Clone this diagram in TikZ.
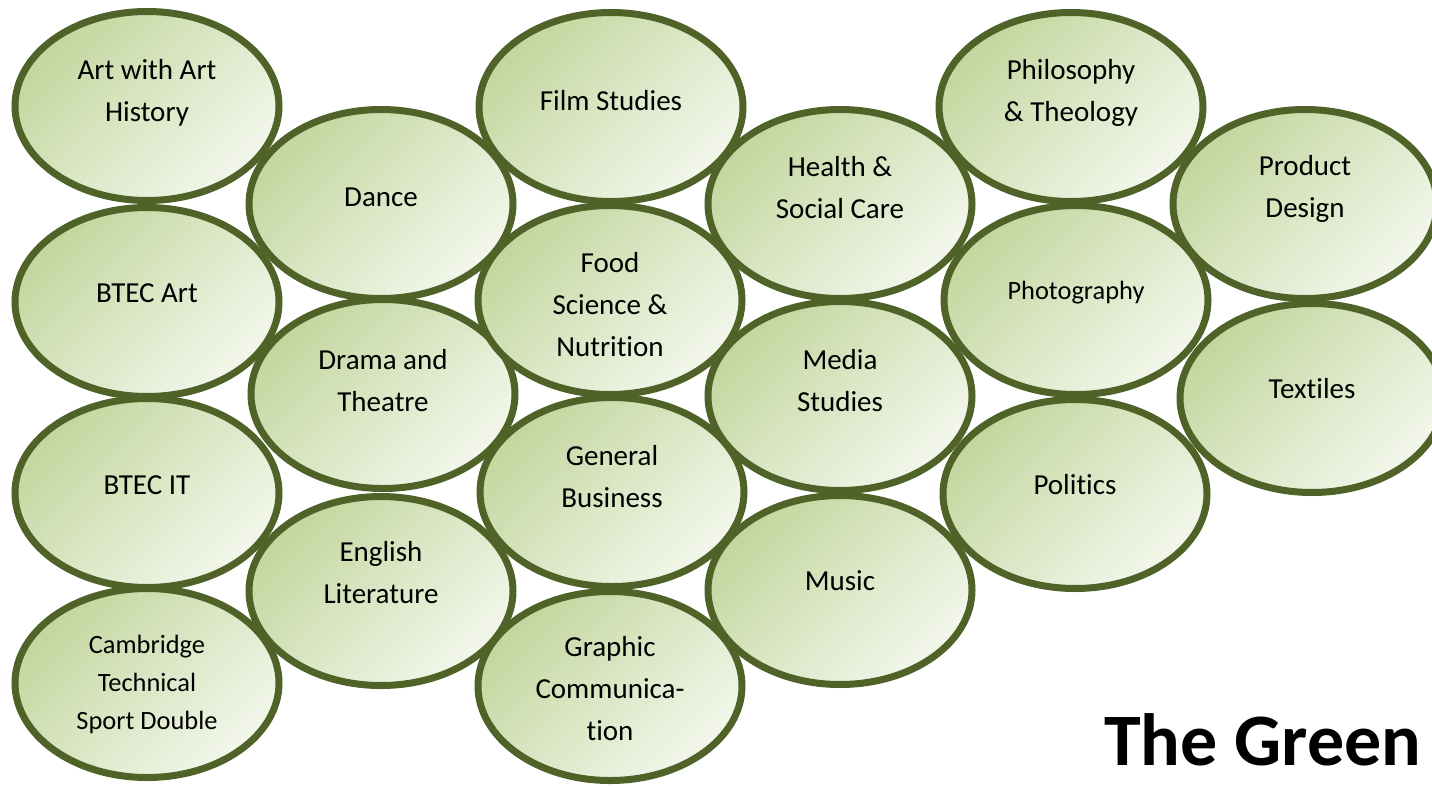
\documentclass[tikz,border=0pt]{standalone}
\usepackage{fontspec}
\setmainfont{Carlito}[Ligatures={NoCommon,NoContextual}]
\usepackage{tikz}
\usetikzlibrary{shapes.geometric, positioning, calc}

\definecolor{bubbleline}{HTML}{4F6228}
\definecolor{bubbletop}{HTML}{C3D69E}
\definecolor{bubblebot}{HTML}{F3F7EC}

\begin{document}
\begin{tikzpicture}[
    x=1pt, y=-1pt,
    subj/.style={ellipse, draw=bubbleline, line width=7pt, minimum width=264pt, minimum height=189pt, inner sep=0pt,
                 top color=bubbletop, bottom color=bubblebot, shading angle=45},
    subjtext/.style={font=\fontsize{29}{42}\selectfont, align=center, inner sep=0pt},
    smalltext/.style={font=\fontsize{26.4}{38}\selectfont, align=center, inner sep=0pt},
    title/.style={font=\fontsize{74}{80}\selectfont\bfseries, inner sep=0pt, anchor=base west}
]
\useasboundingbox (0,0) rectangle (1432,785);
\clip (0,0) rectangle (1432,785);

% column 1
\node[subj] (art)    at (147,106) {};
\node[subj] (btart)  at (147,302) {};
\node[subj] (btit)   at (147,493) {};
\node[subj] (camb)   at (147,683) {};
% column 2
\node[subj] (dance)  at (381,204) {};
\node[subj] (drama)  at (383,394) {};
\node[subj] (engl)   at (381,591) {};
% column 3
\node[subj] (film)   at (611,107) {};
\node[subj] (food)   at (610,300) {};
\node[subj] (gbus)   at (612,492) {};
\node[subj] (graph)  at (610,686) {};
% column 4
\node[subj] (health) at (840,204) {};
\node[subj] (media)  at (840,396) {};
\node[subj] (music)  at (840,590) {};
% column 5
\node[subj] (phil)   at (1071,107) {};
\node[subj] (photo)  at (1076,300) {};
\node[subj] (pol)    at (1075,494) {};
% column 6
\node[subj] (prod)   at (1305,204) {};
\node[subj] (text)   at (1312,398) {};

% labels
\node[subjtext]  (artT)    at ([yshift=13]art)    {Art with Art\\History};
\node[subjtext]  (btartT)  at ([yshift=9]btart)   {BTEC Art};
\node[subjtext]  (btitT)   at ([yshift=8]btit)    {BTEC IT};
\node[smalltext] (cambT)   at ([yshift=-1]camb)   {Cambridge\\Technical\\Sport Double};
\node[subjtext]  (danceT)  at ([yshift=7]dance)   {Dance};
\node[subjtext]  (dramaT)  at ([yshift=13]drama)  {Drama and\\Theatre};
\node[subjtext]  (englT)   at ([yshift=18]engl)   {English\\Literature};
\node[subjtext]  (filmT)   at ([yshift=6]film)    {Film Studies};
\node[subjtext]  (foodT)   at ([yshift=-5]food)   {Food\\Science \&\\Nutrition};
\node[subjtext]  (gbusT)   at ([yshift=15]gbus)   {General\\Business};
\node[subjtext]  (graphT)  at ([yshift=-3]graph)  {Graphic\\Communica-\\tion};
\node[subjtext]  (healthT) at ([yshift=16]health) {Health \&\\Social Care};
\node[subjtext]  (mediaT)  at ([yshift=15]media)  {Media\\Studies};
\node[subjtext]  (musicT)  at ([yshift=9]music)   {Music};
\node[subjtext]  (philT)   at ([yshift=14]phil)   {Philosophy\\\& Theology};
\node[smalltext] (photoT)  at ([yshift=7]photo)   {Photography};
\node[subjtext]  (polT)    at ([yshift=9]pol)     {Politics};
\node[subjtext]  (prodT)   at ([yshift=15]prod)   {Product\\Design};
\node[subjtext]  (textT)   at ([yshift=9]text)    {Textiles};

\node[title] (green) at (1104,765) {The Green};

\end{tikzpicture}
\end{document}
